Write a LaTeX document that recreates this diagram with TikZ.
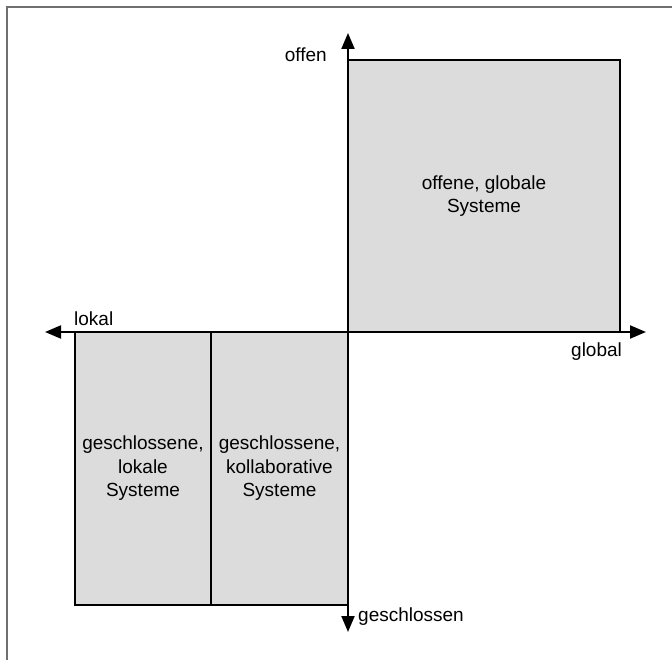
\documentclass[tikz,border=0pt]{standalone}
\usepackage{fontspec}
\setmainfont{Liberation Sans}
\usetikzlibrary{arrows.meta}
\definecolor{quadfill}{HTML}{DCDCDC}
\definecolor{framegray}{HTML}{707070}
\begin{document}
\begin{tikzpicture}[x=1pt,y=-1pt,
  quadrant/.style={draw=black, line width=1.3pt, fill=quadfill, inner sep=0pt,
    align=center, font=\fontsize{19}{23.5}\selectfont},
  axislabel/.style={inner sep=0pt, font=\fontsize{19}{23.5}\selectfont},
  axis/.style={line width=2pt, -{Triangle[length=16pt,width=13pt]}}]
  \useasboundingbox (0,0) rectangle (672,660);
  % partial frame: top and left edges only
  \draw[framegray, line width=2pt] (7,660) -- (7,7) -- (672,7);

  % quadrant boxes
  \node[quadrant, minimum width=272pt, minimum height=272pt] (og) at (484,196)
    {offene, globale\\Systeme};
  \node[quadrant, minimum width=136pt, minimum height=273pt] (gl) at (143,468.5)
    {geschlossene,\\lokale\\Systeme};
  \node[quadrant, minimum width=137pt, minimum height=273pt] (gk) at (279.5,468.5)
    {geschlossene,\\kollaborative\\Systeme};

  % axes
  \coordinate (o) at (348,332);
  \coordinate (top) at (348,33);
  \coordinate (bottom) at (348,632);
  \coordinate (left) at (45,332);
  \coordinate (right) at (646,332);
  \draw[axis] (o) -- (top);
  \draw[axis] (o) -- (bottom);
  \draw[axis] (o) -- (left);
  \draw[axis] (o) -- (right);

  % axis labels
  \node[axislabel, anchor=base east] (offen) at (327,62) {offen};
  \node[axislabel, anchor=base west] (lokal) at (74,326) {lokal};
  \node[axislabel, anchor=base west] (global) at (571,356) {global};
  \node[axislabel, anchor=base west] (geschl) at (358,621) {geschlossen};
\end{tikzpicture}
\end{document}
